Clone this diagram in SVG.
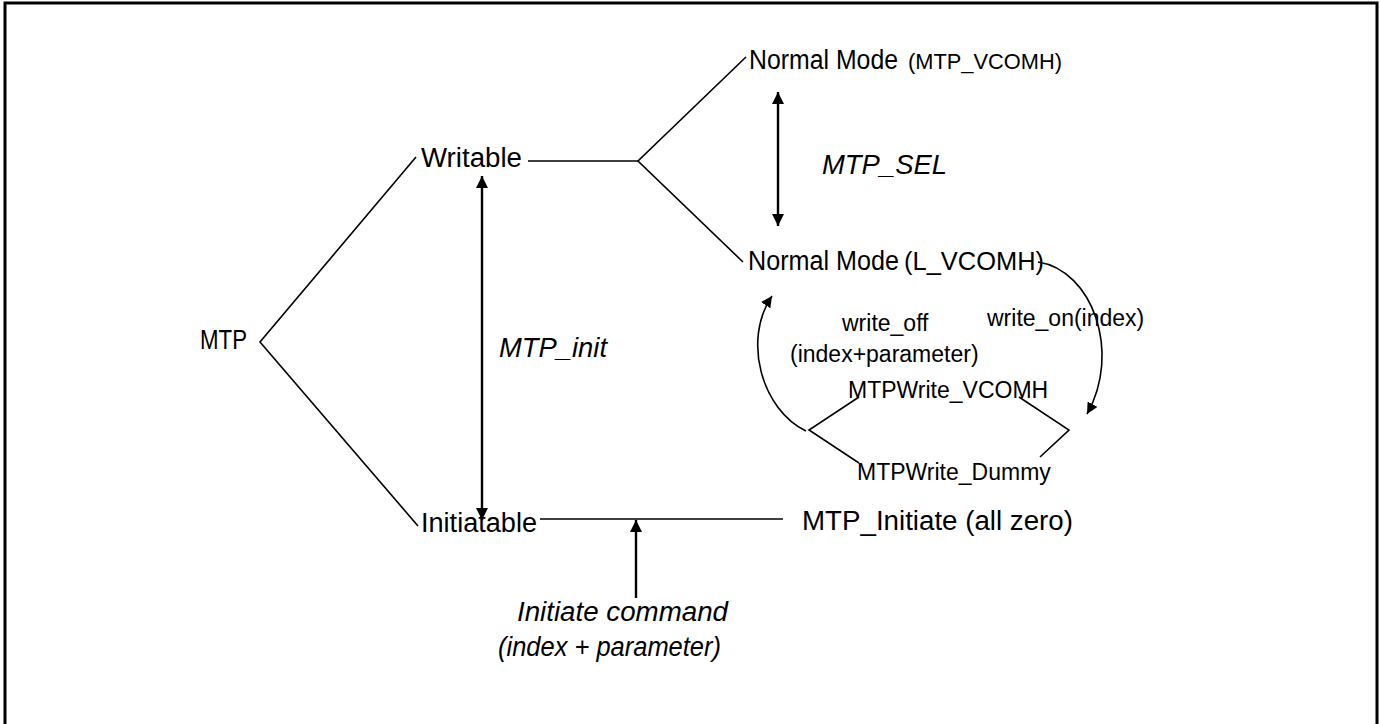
<svg xmlns="http://www.w3.org/2000/svg" width="1380" height="724" viewBox="0 0 1380 724">
<style>
text{font-family:"Liberation Sans",Arial,sans-serif;fill:#000}
.m{font-size:27px}
.s{font-size:22px}
.r{font-size:23px}
.i{font-size:27px;font-style:italic}
.ln{stroke:#000;stroke-width:1.6;fill:none}
.ar{stroke:#000;stroke-width:2.4;fill:none}
</style>
<defs>
<marker id="ah" viewBox="0 0 10 10" refX="10" refY="5" markerWidth="5" markerHeight="5" orient="auto-start-reverse" markerUnits="strokeWidth">
<path d="M0,0 L10,5 L0,10 z" fill="#000"/>
</marker>
<marker id="ah2" viewBox="0 0 10 10" refX="10" refY="5" markerWidth="7" markerHeight="7" orient="auto" markerUnits="strokeWidth">
<path d="M0,0 L10,5 L0,10 z" fill="#000"/>
</marker>
</defs>
<rect x="5" y="3" width="1372" height="740" fill="#fff" stroke="#000" stroke-width="3"/>
<g id="connectors">
<polyline class="ln" points="416,157 260,342 418,526"/>
<line class="ln" x1="528" y1="161" x2="638" y2="161"/>
<polyline class="ln" points="746,57 638,161 743,262"/>
<line class="ln" x1="540" y1="519" x2="783" y2="519"/>
<polyline class="ln" points="859,397 809,430 859,463"/>
<polyline class="ln" points="1019,397 1069,430 1040,457"/>
<line class="ar" x1="778" y1="92" x2="778" y2="226" marker-start="url(#ah)" marker-end="url(#ah)"/>
<line class="ar" x1="482" y1="176" x2="482" y2="520" marker-start="url(#ah)" marker-end="url(#ah)"/>
<line class="ar" x1="636" y1="598" x2="636" y2="520" marker-end="url(#ah)"/>
<path class="ln" d="M806,431 C762,410 742,340 772,296" marker-end="url(#ah2)"/>
<path class="ln" d="M1038,262 C1092,270 1122,352 1087,414" marker-end="url(#ah2)"/>
</g>
<g id="mtp"><text class="m" x="200" y="349" textLength="47" lengthAdjust="spacingAndGlyphs">MTP</text></g>
<g id="writable"><text class="m" x="421" y="167" textLength="101" lengthAdjust="spacingAndGlyphs">Writable</text></g>
<g id="initiatable"><text class="m" x="421" y="532" textLength="116" lengthAdjust="spacingAndGlyphs">Initiatable</text></g>
<g id="normal-mtp-vcomh"><text class="m" x="749" y="69" textLength="149" lengthAdjust="spacingAndGlyphs">Normal Mode</text><text class="s" x="908" y="69" textLength="154" lengthAdjust="spacingAndGlyphs">(MTP_VCOMH)</text></g>
<g id="normal-l-vcomh"><text class="m" x="748" y="270" textLength="151" lengthAdjust="spacingAndGlyphs">Normal Mode</text><text x="904" y="270" font-size="25" textLength="140" lengthAdjust="spacingAndGlyphs">(L_VCOMH)</text></g>
<g id="mtp-initiate"><text class="m" x="802" y="530" textLength="271" lengthAdjust="spacingAndGlyphs">MTP_Initiate (all zero)</text></g>
<g id="mtpwrite-vcomh"><text class="r" x="848" y="398">MTPWrite_VCOMH</text></g>
<g id="mtpwrite-dummy"><text class="r" x="857" y="480">MTPWrite_Dummy</text></g>
<g id="labels">
<text class="i" x="822" y="174" textLength="125" lengthAdjust="spacingAndGlyphs">MTP_SEL</text>
<text class="i" x="499" y="357" textLength="108" lengthAdjust="spacingAndGlyphs">MTP_init</text>
<text class="r" x="842" y="331">write_off</text>
<text class="r" x="790" y="362">(index+parameter)</text>
<text class="r" x="987" y="326">write_on(index)</text>
<text class="i" x="517" y="621" textLength="211" lengthAdjust="spacingAndGlyphs">Initiate command</text>
<text class="i" x="498" y="656" textLength="223" lengthAdjust="spacingAndGlyphs">(index + parameter)</text>
</g>
</svg>
